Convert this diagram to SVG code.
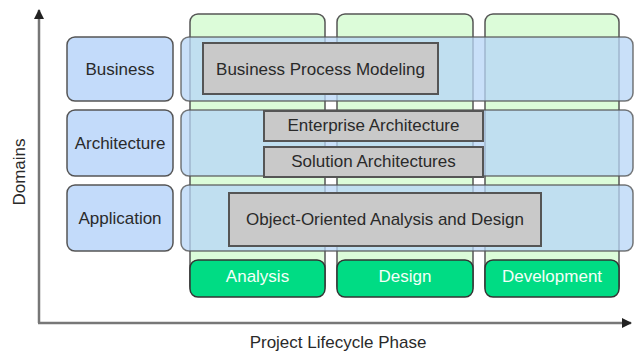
<svg xmlns="http://www.w3.org/2000/svg" width="634" height="356" viewBox="0 0 634 356">
<defs>
<marker id="arr" viewBox="0 0 10 10" refX="9" refY="5" markerWidth="4" markerHeight="4" orient="auto" markerUnits="strokeWidth">
<path d="M0,0 L10,5 L0,10 z" fill="#222"/>
</marker>
</defs>
<style>
text{font-family:"Liberation Sans",Arial,sans-serif;font-size:17px;fill:#2a2a2a;text-anchor:middle}
.col{fill:#dcfcd9;stroke:#555;stroke-width:1.5}
.dom{fill:#c3dbfa;stroke:#555;stroke-width:1.5}
.band{fill:#b7d6f7;fill-opacity:0.75;stroke:#555;stroke-opacity:0.8;stroke-width:1.5}
.act{fill:#c9c9c9;stroke:#555;stroke-width:2}
.ph{fill:#00dc84;stroke:#333;stroke-width:1.5}
.ph+text{fill:#f4fff8}
.axis{stroke:#777;stroke-width:2.5;fill:none}
</style>
<rect width="634" height="356" fill="#fff"/>
<g id="connectors">
<path class="axis" d="M39,323 L39,10" marker-end="url(#arr)"/>
<path class="axis" d="M38,323 L631,323" marker-end="url(#arr)"/>
</g>
<text x="24.5" y="172" transform="rotate(-90 24.5 172)">Domains</text>
<text x="338" y="348">Project Lifecycle Phase</text>
<g id="col-analysis"><rect class="col" x="190" y="14" width="135" height="280" rx="8"/></g>
<g id="col-design"><rect class="col" x="337" y="14" width="136" height="280" rx="8"/></g>
<g id="col-development"><rect class="col" x="485" y="14" width="134" height="280" rx="8"/></g>
<g id="business"><rect class="dom" x="67" y="37" width="106" height="64" rx="8"/><text x="120" y="75">Business</text></g>
<g id="architecture"><rect class="dom" x="67" y="110" width="106" height="66" rx="8"/><text x="120" y="149">Architecture</text></g>
<g id="application"><rect class="dom" x="67" y="185" width="106" height="66" rx="8"/><text x="120" y="224">Application</text></g>
<g id="band-business"><rect class="band" x="181" y="37" width="452" height="64" rx="8"/></g>
<g id="band-architecture"><rect class="band" x="181" y="110" width="452" height="66" rx="8"/></g>
<g id="band-application"><rect class="band" x="181" y="185" width="452" height="66" rx="8"/></g>
<g id="bpm"><rect class="act" x="203" y="43" width="235" height="51"/><text x="320.5" y="75">Business Process Modeling</text></g>
<g id="ea"><rect class="act" x="264" y="111" width="219" height="30"/><text x="373.5" y="131">Enterprise Architecture</text></g>
<g id="sa"><rect class="act" x="264" y="147" width="219" height="30"/><text x="373.5" y="167">Solution Architectures</text></g>
<g id="ooad"><rect class="act" x="229" y="193" width="312" height="53"/><text x="385" y="225">Object-Oriented Analysis and Design</text></g>
<g id="analysis"><rect class="ph" x="190" y="260" width="135" height="37" rx="8"/><text x="257.5" y="282">Analysis</text></g>
<g id="design"><rect class="ph" x="337" y="260" width="136" height="37" rx="8"/><text x="405" y="282">Design</text></g>
<g id="development"><rect class="ph" x="485" y="260" width="134" height="37" rx="8"/><text x="552" y="282">Development</text></g>
</svg>
